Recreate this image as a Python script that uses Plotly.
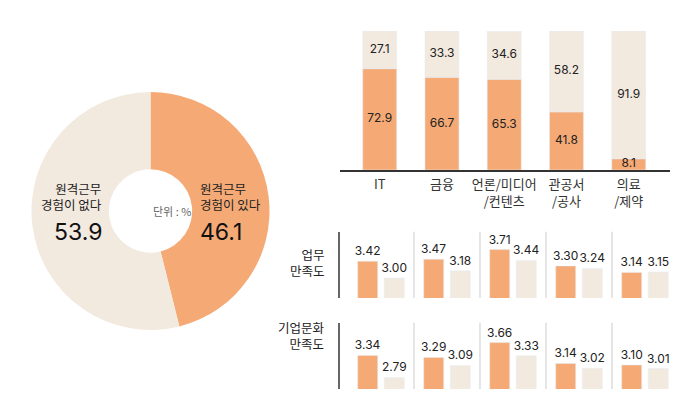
import plotly.graph_objects as go

# 원격근무 경험 (단위 %)
pie_labels = ["원격근무<br>경험이 있다", "원격근무<br>경험이 없다"]
pie_values = [46.1, 53.9]

# 업종별 원격근무 경험
industries = ["IT", "금융", "언론/미디어<br>/컨텐츠", "관공서<br>/공사", "의료<br>/제약"]
remote_yes = [72.9, 66.7, 65.3, 41.8, 8.1]
remote_no = [27.1, 33.3, 34.6, 58.2, 91.9]

# 만족도 (경험 있음 / 없음)
work_sat_yes = [3.42, 3.47, 3.71, 3.30, 3.14]
work_sat_no = [3.00, 3.18, 3.44, 3.24, 3.15]
culture_sat_yes = [3.34, 3.29, 3.66, 3.14, 3.10]
culture_sat_no = [2.79, 3.09, 3.33, 3.02, 3.01]

ORANGE = "#F5AA76"
BEIGE = "#F2E9DF"
FONT = "Inter, Noto Sans CJK KR"
KFONT = "Noto Sans CJK KR"
W, H = 700, 420
OFF = 8  # page body margin


def px(x0, x1):
    return [(x0 - OFF) / W, (x1 - OFF) / W]


def py(top, bottom):
    return [1 - (bottom - OFF) / H, 1 - (top - OFF) / H]


def pt(x, y):
    return (x - OFF) / W, 1 - (y - OFF) / H


fig = go.Figure()

# donut
fig.add_trace(go.Pie(
    labels=pie_labels,
    values=pie_values,
    hole=0.35,
    sort=False,
    direction="clockwise",
    rotation=0,
    marker=dict(colors=[ORANGE, BEIGE], line=dict(width=0)),
    textinfo="none",
    domain=dict(x=px(31, 270), y=py(92, 330)),
    showlegend=False,
))

# stacked bars (top)
fig.add_trace(go.Bar(
    x=industries, y=remote_yes, marker_color=ORANGE, width=0.546,
    xaxis="x", yaxis="y", showlegend=False,
))
fig.add_trace(go.Bar(
    x=industries, y=remote_no, base=remote_yes, marker_color=BEIGE, width=0.546,
    xaxis="x", yaxis="y", showlegend=False,
))
# segment labels at segment centres
fig.add_trace(go.Scatter(
    x=industries + industries,
    y=[v / 2 for v in remote_yes] + [a + b / 2 for a, b in zip(remote_yes, remote_no)],
    text=[f"{v:.1f}" for v in remote_yes + remote_no],
    mode="text", textposition="middle center",
    textfont=dict(size=12, color="#222"), cliponaxis=False,
    xaxis="x", yaxis="y", showlegend=False,
))

# satisfaction rows
rows = [("x2", "y2", work_sat_yes, work_sat_no),
        ("x3", "y3", culture_sat_yes, culture_sat_no)]
for xa, ya, yes, no in rows:
    for vals, color, off in [(yes, ORANGE, -0.353), (no, BEIGE, 0.05)]:
        fig.add_trace(go.Bar(
            x=industries, y=vals, marker_color=color, width=0.303, offset=off,
            text=[f"{v:.2f}" for v in vals], textposition="outside",
            constraintext="none",
            textfont=dict(size=12, color="#222"), cliponaxis=False,
            xaxis=xa, yaxis=ya, showlegend=False,
        ))
    for i in range(1, len(industries)):
        fig.add_shape(type="line", xref=xa, yref=f"{ya} domain",
                      x0=i - 0.5, x1=i - 0.5, y0=0, y1=1,
                      line=dict(color="#DDDDDD", width=1.5))

bottom_axis = dict(showticklabels=False, showgrid=False, zeroline=False,
                   showline=False, range=[-0.621, 4.5], fixedrange=True)
bottom_y = dict(range=[2.5, 4.157], showgrid=False, zeroline=False,
                showticklabels=False, showline=True, linecolor="#666", linewidth=2)

fig.update_layout(
    width=W, height=H,
    margin=dict(l=0, r=0, t=0, b=0),
    paper_bgcolor="white", plot_bgcolor="white",
    barmode="overlay",
    font=dict(family=FONT, color="#222"),
    xaxis=dict(domain=px(340, 670), range=[-0.638, 4.663], showgrid=False,
               showline=True, linecolor="#333", linewidth=1.5, ticks="",
               ticklabelstandoff=2,
               tickfont=dict(size=13, color="#333", family=KFONT), anchor="y"),
    yaxis=dict(domain=py(31, 170), range=[0, 100], showgrid=False,
               zeroline=False, showticklabels=False, anchor="x"),
    xaxis2=dict(domain=px(340, 678), anchor="y2", **bottom_axis),
    yaxis2=dict(domain=py(231.7, 298), anchor="x2", **bottom_y),
    xaxis3=dict(domain=px(340, 678), anchor="y3", **bottom_axis),
    yaxis3=dict(domain=py(322.7, 389), anchor="x3", **bottom_y),
)

# donut labels
x, y = pt(151, 211)
fig.add_annotation(x=x, y=y, xref="paper", yref="paper",
                   text="단위 : %", showarrow=False,
                   font=dict(size=11, color="#666", family=KFONT))
x, y = pt(104, 197)
fig.add_annotation(x=x, y=y, xref="paper", yref="paper",
                   text=pie_labels[1], showarrow=False, xanchor="right",
                   align="right", font=dict(size=12.5, color="#222", family=KFONT))
x, y = pt(104, 232)
fig.add_annotation(x=x, y=y, xref="paper", yref="paper",
                   text=f"{pie_values[1]}", showarrow=False, xanchor="right",
                   font=dict(size=23, color="#111"))
x, y = pt(198, 197)
fig.add_annotation(x=x, y=y, xref="paper", yref="paper",
                   text=pie_labels[0], showarrow=False, xanchor="left",
                   align="left", font=dict(size=12.5, color="#222", family=KFONT))
x, y = pt(198, 232)
fig.add_annotation(x=x, y=y, xref="paper", yref="paper",
                   text=f"{pie_values[0]}", showarrow=False, xanchor="left",
                   font=dict(size=23, color="#111"))

# row labels
x, y = pt(327, 263)
fig.add_annotation(x=x, y=y, xref="paper", yref="paper",
                   text="업무<br>만족도", showarrow=False, xanchor="right",
                   align="right", font=dict(size=12.5, color="#222", family=KFONT))
x, y = pt(327, 355)
fig.add_annotation(x=x, y=y, xref="paper", yref="paper",
                   text="기업문화<br>만족도", showarrow=False, xanchor="right",
                   align="right", font=dict(size=12.5, color="#222", family=KFONT))

fig.write_html("out.html")
